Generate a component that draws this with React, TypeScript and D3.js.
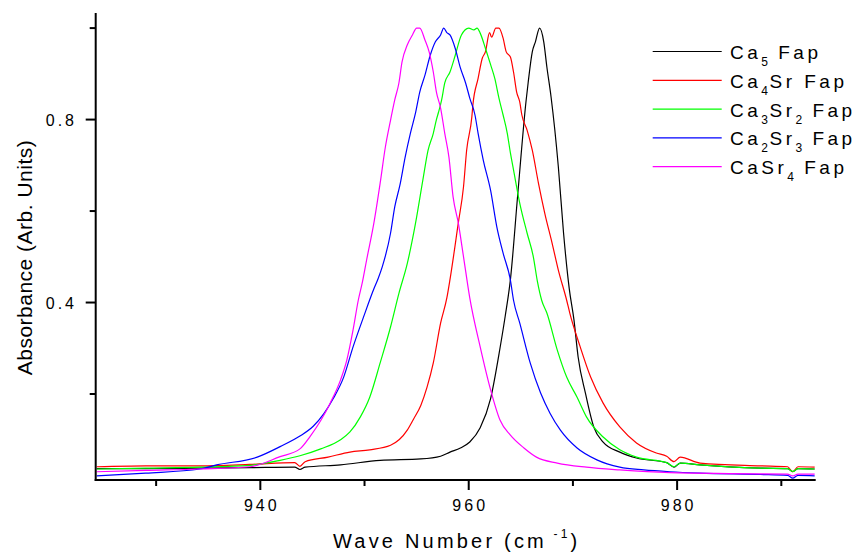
import React from "react";
import * as d3 from "d3";

// ---------- data ----------
const CA5: [number, number][] = [
  [924.3, 0.037], [929, 0.037], [934.2, 0.038], [939, 0.039], [943.3, 0.040], [943.8, 0.035], [944.3, 0.040],
  [947.7, 0.045], [951.5, 0.055], [955.4, 0.058], [957.3, 0.064], [958.2, 0.073], [959.2, 0.082], [960.1, 0.095],
  [961.1, 0.126], [962.1, 0.19], [963.0, 0.30], [963.5, 0.37], [964.0, 0.45], [964.7, 0.635], [965.5, 0.84],
  [965.7, 0.88], [966.1, 0.948], [966.4, 0.97], [966.8, 1.0], [967.2, 0.97], [967.5, 0.915], [967.9, 0.85],
  [968.6, 0.697], [969.1, 0.552], [969.65, 0.43], [970.1, 0.362], [970.5, 0.281], [971.2, 0.202], [972.0, 0.128],
  [972.9, 0.095], [974.5, 0.073], [976.1, 0.06], [979.0, 0.050], [979.7, 0.040], [980.3, 0.049], [982.2, 0.045],
  [988.0, 0.038], [990.6, 0.037], [991.1, 0.030], [991.6, 0.037], [993.2, 0.036],
];

const CA4SR: [number, number][] = [
  [924.3, 0.041], [929, 0.043], [934.2, 0.043], [939, 0.046], [943.3, 0.050], [943.8, 0.042], [944.3, 0.052],
  [946.5, 0.062], [948.6, 0.073], [950.5, 0.078], [952.5, 0.088], [954.1, 0.121], [954.7, 0.145], [955.4, 0.175],
  [956.0, 0.215], [956.6, 0.268], [957.3, 0.355], [957.9, 0.41], [958.2, 0.45], [959.0, 0.574], [959.5, 0.653],
  [959.8, 0.733], [960.3, 0.806], [960.4, 0.832], [960.9, 0.89], [961.3, 0.934], [961.6, 0.948], [962.0, 0.99],
  [962.2, 0.98], [962.6, 1.0], [962.9, 1.0], [963.3, 0.978], [963.6, 0.948], [964.0, 0.937], [964.3, 0.904],
  [964.6, 0.86], [964.9, 0.838], [965.1, 0.81], [965.6, 0.777], [966.1, 0.733], [966.7, 0.66], [967.3, 0.595],
  [968.0, 0.53], [968.6, 0.471], [969.4, 0.405], [969.7, 0.377], [970.7, 0.303], [971.7, 0.237], [972.9, 0.18],
  [974.5, 0.128], [976.1, 0.093], [978.0, 0.071], [979.0, 0.064], [979.7, 0.052], [980.3, 0.062], [982.2, 0.049],
  [988.0, 0.043], [990.6, 0.041], [991.1, 0.030], [991.6, 0.041], [993.2, 0.040],
];

const CA3SR2: [number, number][] = [
  [924.3, 0.036], [929, 0.038], [934.2, 0.040], [939, 0.044], [941.9, 0.055], [943.8, 0.065], [945.8, 0.080],
  [947.7, 0.10], [948.6, 0.117], [949.6, 0.15], [950.5, 0.193], [951.5, 0.268], [952.5, 0.347], [953.3, 0.42],
  [954.1, 0.485], [954.9, 0.574], [955.6, 0.668], [956.1, 0.733], [956.6, 0.77], [956.9, 0.80], [957.1, 0.816],
  [957.4, 0.843], [957.7, 0.88], [958.2, 0.904], [958.7, 0.94], [959.3, 0.985], [960.0, 1.0], [960.5, 0.996],
  [960.8, 1.0], [961.1, 0.989], [961.6, 0.956], [962.1, 0.92], [962.5, 0.89], [962.9, 0.847], [963.3, 0.81],
  [963.7, 0.77], [964.0, 0.727], [964.3, 0.69], [964.9, 0.617], [965.6, 0.552], [966.2, 0.50], [966.6, 0.445],
  [967.0, 0.405], [967.5, 0.377], [968.5, 0.296], [969.4, 0.237], [970.4, 0.193], [971.3, 0.15], [972.9, 0.106],
  [974.5, 0.078], [976.1, 0.062], [979.0, 0.050], [979.7, 0.041], [980.3, 0.049], [982.2, 0.045], [988.0, 0.038],
  [990.6, 0.037], [991.1, 0.031], [991.6, 0.037], [993.2, 0.036],
];

const CA2SR3: [number, number][] = [
  [924.3, 0.021], [929, 0.027], [934.2, 0.036], [935.8, 0.045], [939.7, 0.062], [941.9, 0.085], [943.8, 0.108],
  [945.1, 0.13], [946.1, 0.157], [947.0, 0.19], [948.0, 0.237], [948.9, 0.303], [949.9, 0.368], [950.9, 0.43],
  [951.3, 0.452], [951.7, 0.478], [952.5, 0.552], [952.9, 0.609], [953.4, 0.657], [953.9, 0.718], [954.4, 0.77],
  [954.9, 0.815], [955.3, 0.86], [955.8, 0.897], [956.3, 0.94], [956.8, 0.97], [957.3, 0.985], [957.6, 1.0],
  [957.9, 0.99], [958.2, 0.985], [958.7, 0.956], [959.2, 0.913], [959.7, 0.88], [960.1, 0.847], [960.6, 0.81],
  [960.9, 0.77], [961.4, 0.711], [962.1, 0.645], [962.7, 0.565], [963.3, 0.508], [964.0, 0.449], [964.3, 0.405],
  [964.9, 0.355], [965.9, 0.268], [966.9, 0.202], [967.8, 0.158], [968.8, 0.121], [970.4, 0.082], [972.3, 0.056],
  [974.5, 0.04], [976.8, 0.034], [979.3, 0.030], [982.2, 0.027], [988.0, 0.024], [990.6, 0.022], [991.1, 0.016],
  [991.6, 0.022], [993.2, 0.021],
];

const CASR4: [number, number][] = [
  [924.3, 0.030], [929, 0.033], [934.2, 0.036], [939, 0.041], [941.9, 0.063], [943.8, 0.08], [944.8, 0.108],
  [945.8, 0.142], [946.7, 0.18], [947.7, 0.231], [948.3, 0.274], [948.9, 0.34], [949.4, 0.405], [949.8, 0.445],
  [950.2, 0.493], [950.9, 0.574], [951.5, 0.661], [952.0, 0.74], [952.5, 0.799], [952.9, 0.843], [953.3, 0.88],
  [953.6, 0.926], [954.1, 0.963], [954.6, 0.985], [955.0, 1.0], [955.3, 1.0], [955.8, 0.974], [956.2, 0.948],
  [956.6, 0.904], [956.9, 0.86], [957.3, 0.825], [957.7, 0.77], [958.1, 0.718], [958.5, 0.631], [959.0, 0.574],
  [959.5, 0.50], [960.1, 0.41], [961.1, 0.303], [962.1, 0.209], [963.0, 0.143], [964.0, 0.11], [965.3, 0.082],
  [966.5, 0.062], [968.5, 0.049], [971.3, 0.04], [974.5, 0.034], [979.3, 0.028], [985, 0.026], [990.6, 0.025],
  [991.1, 0.021], [991.6, 0.025], [993.2, 0.025],
];

const SERIES = [CA5, CA4SR, CA3SR2, CA2SR3, CASR4];
const COLORS = ["#000000", "#ff0000", "#00ff00", "#0000ff", "#ff00ff"];
const LEGEND_LABELS: { t: string; sub?: boolean }[][] = [
  [{ t: "Ca" }, { t: "5", sub: true }, { t: " Fap" }],
  [{ t: "Ca" }, { t: "4", sub: true }, { t: "Sr Fap" }],
  [{ t: "Ca" }, { t: "3", sub: true }, { t: "Sr" }, { t: "2", sub: true }, { t: " Fap" }],
  [{ t: "Ca" }, { t: "2", sub: true }, { t: "Sr" }, { t: "3", sub: true }, { t: " Fap" }],
  [{ t: "CaSr" }, { t: "4", sub: true }, { t: " Fap" }],
];

const X_DOMAIN = [924.2, 993.3];
const Y_DOMAIN = [0.012, 1.033];
const X_MAJOR = [940, 960, 980];
const X_MINOR = [930, 950, 970, 990];
const Y_MAJOR = [0.4, 0.8];
const Y_MINOR = [0.2, 0.6, 1.0];

const FONT = "'Liberation Sans', Arial, Helvetica, sans-serif";

export default function App() {
  const W = 866, H = 555;
  const left = 95.7, right = 815.7, top = 13, bottom = 480;
  const x = d3.scaleLinear().domain(X_DOMAIN).range([left, right]);
  const y = d3.scaleLinear().domain(Y_DOMAIN).range([bottom, top]);
  const line = d3
    .line<[number, number]>()
    .x((d) => x(d[0]))
    .y((d) => y(d[1]))
    .curve(d3.curveMonotoneX);

  const legendX1 = 652.7, legendX2 = 721.7, legendTextX = 730;
  const legendY0 = 51.5, legendStep = 28.8;

  return (
    <svg
      width={W}
      height={H}
      style={{ position: "absolute", left: 0, top: 0, background: "#fff" }}
      fontFamily={FONT}
    >
      <rect x={0} y={0} width={W} height={H} fill="#fff" />
      <defs>
        <clipPath id="plotclip">
          <rect x={left} y={top} width={right - left} height={bottom - top} />
        </clipPath>
      </defs>

      <g clipPath="url(#plotclip)">
        {SERIES.map((s, i) => (
          <path key={i} d={line(s) || ""} fill="none" stroke={COLORS[i]} strokeWidth={1.2} />
        ))}
      </g>

      {/* axes */}
      <line x1={left} y1={top} x2={left} y2={bottom + 1} stroke="#000" strokeWidth={2} />
      <line x1={left - 1} y1={bottom} x2={right} y2={bottom} stroke="#000" strokeWidth={2} />

      {X_MAJOR.map((v) => (
        <g key={"xm" + v}>
          <line x1={x(v)} x2={x(v)} y1={bottom} y2={bottom + 10} stroke="#000" strokeWidth={2} />
          <text x={x(v) + 1.5} y={510.5} fontSize={16} letterSpacing={3} textAnchor="middle" fill="#000">
            {v}
          </text>
        </g>
      ))}
      {X_MINOR.map((v) => (
        <line key={"xn" + v} x1={x(v)} x2={x(v)} y1={bottom} y2={bottom + 6} stroke="#000" strokeWidth={2} />
      ))}
      {Y_MAJOR.map((v) => (
        <g key={"ym" + v}>
          <line x1={left - 10} x2={left} y1={y(v)} y2={y(v)} stroke="#000" strokeWidth={2} />
          <text x={77} y={y(v) + 6} fontSize={16} letterSpacing={3} textAnchor="end" fill="#000">
            {v.toFixed(1)}
          </text>
        </g>
      ))}
      {Y_MINOR.map((v) => (
        <line key={"yn" + v} x1={left - 6} x2={left} y1={y(v)} y2={y(v)} stroke="#000" strokeWidth={2} />
      ))}

      {/* axis titles */}
      <text
        transform={`translate(32,257.5) rotate(-90)`}
        fontSize={21}
        letterSpacing={0.5}
        textAnchor="middle"
        fill="#000"
      >
        Absorbance (Arb. Units)
      </text>
      <text x={333} y={548} fontSize={20} letterSpacing={3.2} fill="#000">
        Wave Number (cm
        <tspan fontSize={12} dy={-10}>
          {" -1"}
        </tspan>
        <tspan dy={10}>)</tspan>
      </text>

      {/* legend */}
      {LEGEND_LABELS.map((segs, i) => {
        const ly = legendY0 + i * legendStep;
        return (
          <g key={"lg" + i}>
            <line x1={legendX1} x2={legendX2} y1={ly} y2={ly} stroke={COLORS[i]} strokeWidth={1.2} />
            <text x={legendTextX} y={ly + 7.5} fontSize={19} letterSpacing={3.5} fill="#000">
              {segs.map((sg, j) => {
                const prevSub = j > 0 && segs[j - 1].sub;
                let dy = 0;
                if (sg.sub) dy = 7;
                else if (prevSub) dy = -7;
                return (
                  <tspan key={j} fontSize={sg.sub ? 12 : 19} letterSpacing={sg.sub ? 1.5 : 3.5} dy={dy}>
                    {sg.t}
                  </tspan>
                );
              })}
            </text>
          </g>
        );
      })}
    </svg>
  );
}
